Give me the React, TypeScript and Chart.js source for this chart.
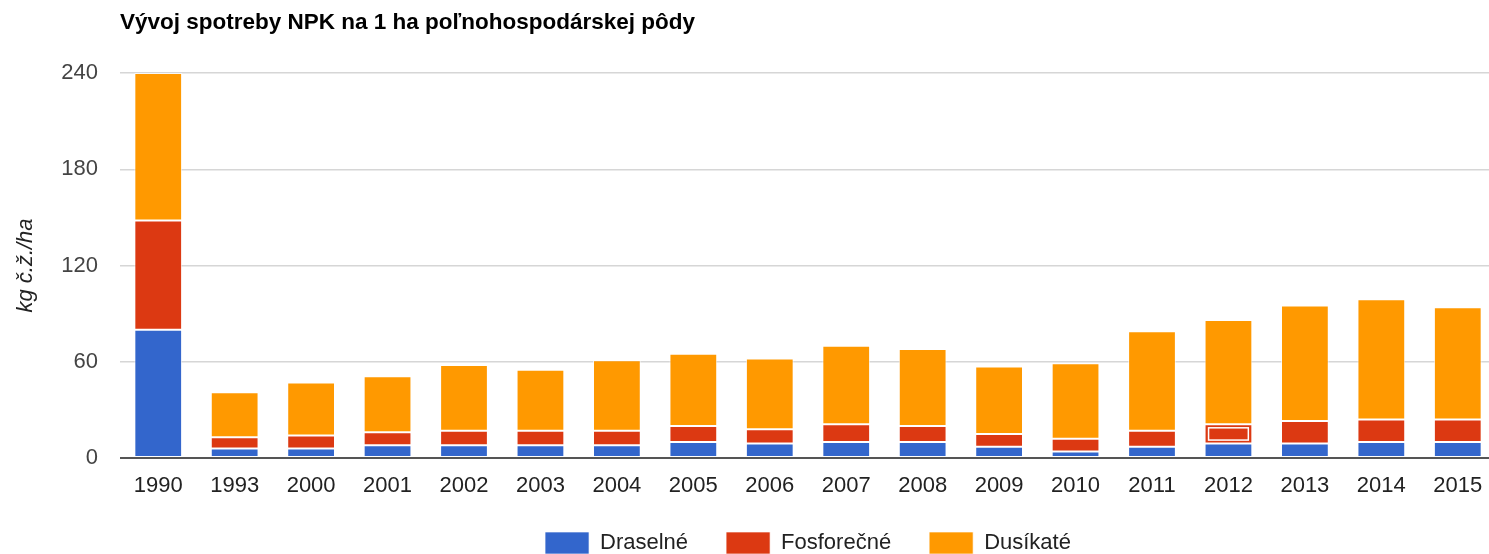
import React, { useEffect, useRef } from "react";
import { Chart, registerables } from "chart.js";

Chart.register(...registerables);

const TITLE = "Vývoj spotreby NPK na 1 ha poľnohospodárskej pôdy";
const Y_TITLE = "kg č.ž./ha";
const YEARS = ["1990", "1993", "2000", "2001", "2002", "2003", "2004", "2005", "2006", "2007", "2008", "2009", "2010", "2011", "2012", "2013", "2014", "2015"];
const DRASELNE = [80, 6, 6, 8, 8, 8, 8, 10, 9, 10, 10, 7, 4, 7, 9, 9, 10, 10];
const FOSFORECNE = [68, 7, 8, 8, 9, 9, 9, 10, 9, 11, 10, 8, 8, 10, 12, 14, 14, 14];
const DUSIKATE = [92, 28, 33, 35, 41, 38, 44, 45, 44, 49, 48, 42, 47, 62, 65, 72, 75, 70];
const Y_TICKS = [0, 60, 120, 180, 240];
const HIGHLIGHT_YEAR = "2012";

const FONT = "Arial, 'Liberation Sans', sans-serif";

const highlightPlugin = {
  id: "highlight",
  afterDatasetsDraw(chart: any) {
    const idx = YEARS.indexOf(HIGHLIGHT_YEAR);
    const meta = chart.getDatasetMeta(1);
    const el = meta.data[idx];
    if (!el) return;
    const { x, y, base, width } = el.getProps(["x", "y", "base", "width"], true);
    const ctx = chart.ctx;
    ctx.save();
    ctx.strokeStyle = "#ffffff";
    ctx.lineWidth = 1.5;
    ctx.strokeRect(x - width / 2 + 4, y + 3.5, width - 8, base - y - 7);
    ctx.restore();
  },
};

export default function App() {
  const ref = useRef<HTMLCanvasElement | null>(null);
  useEffect(() => {
    if (!ref.current) return;
    const chart = new Chart(ref.current, {
      type: "bar",
      data: {
        labels: YEARS,
        datasets: [
          { label: "Draselné", data: DRASELNE, backgroundColor: "#3366cc" },
          { label: "Fosforečné", data: FOSFORECNE, backgroundColor: "#dc3912" },
          { label: "Dusíkaté", data: DUSIKATE, backgroundColor: "#ff9900" },
        ].map((d) => ({
          ...d,
          borderColor: "rgba(255,255,255,0.65)",
          borderWidth: 1,
          borderSkipped: false,
          categoryPercentage: 1,
          barPercentage: 0.625,
        })),
      },
      options: {
        animation: false,
        responsive: false,
        devicePixelRatio: 1,
        layout: { padding: { left: 0, right: 4, top: 0, bottom: 0 } },
        plugins: {
          title: {
            display: true,
            text: TITLE,
            align: "start",
            fullSize: false,
            color: "#000000",
            font: { family: FONT, size: 22.5, weight: "bold" },
            padding: { top: 9, bottom: 37 },
          },
          legend: {
            position: "bottom",
            fullSize: false,
            labels: {
              boxWidth: 44,
              boxHeight: 22,
              padding: 38,
              color: "#222222",
              font: { family: FONT, size: 22 },
            },
          },
          tooltip: { enabled: false },
        },
        scales: {
          x: {
            stacked: true,
            grid: { display: false, drawTicks: false },
            border: { display: false },
            ticks: { color: "#222222", font: { family: FONT, size: 22 }, padding: 15, maxRotation: 0, autoSkip: false },
            afterFit: (s: any) => { s.height = 36; },
          },
          y: {
            stacked: true,
            min: 0,
            max: 240,
            afterBuildTicks: (s: any) => { s.ticks = Y_TICKS.map((v) => ({ value: v })); },
            grid: {
              drawTicks: false,
              color: (c: any) => (c.tick && c.tick.value === 0 ? "#555555" : "#d6d6d6"),
              lineWidth: (c: any) => (c.tick && c.tick.value === 0 ? 2 : 1.5),
            },
            border: { display: false },
            ticks: { color: "#444444", font: { family: FONT, size: 22 }, padding: 22 },
            title: {
              display: true,
              text: Y_TITLE,
              color: "#222222",
              font: { family: FONT, size: 22, style: "italic" },
              padding: { top: 13, bottom: 0 },
            },
            afterFit: (s: any) => { s.width = 120; },
          },
        },
      },
      plugins: [highlightPlugin],
    } as any);
    return () => chart.destroy();
  }, []);
  return (
    <div style={{ position: "absolute", left: 0, top: 0, width: 1489, height: 554, overflow: "hidden", background: "#ffffff" }}>
      <canvas ref={ref} width={1500} height={564} style={{ display: "block", width: 1500, height: 564 }} />
    </div>
  );
}
